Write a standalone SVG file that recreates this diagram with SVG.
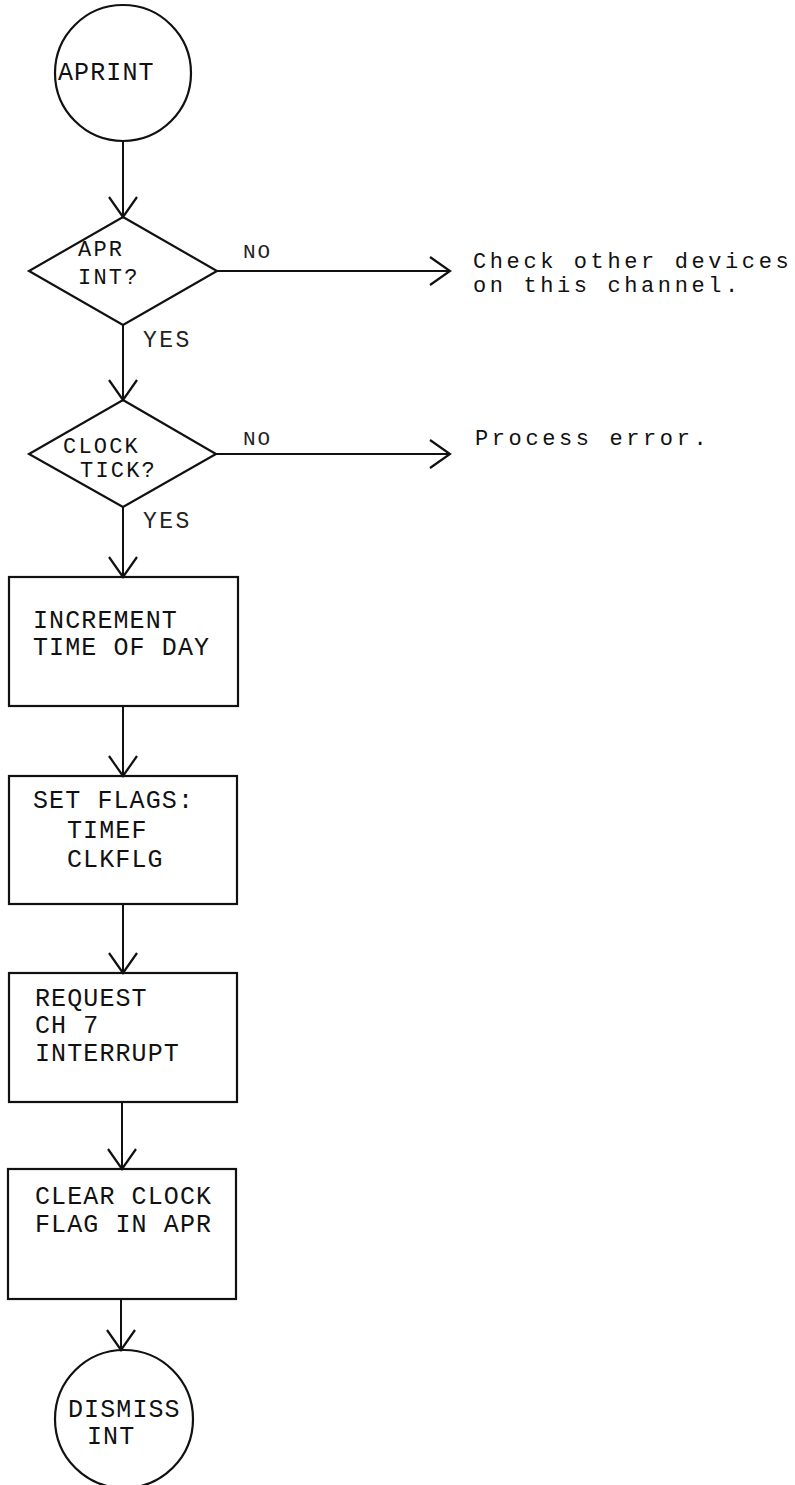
<svg xmlns="http://www.w3.org/2000/svg" width="795" height="1485" viewBox="0 0 795 1485">
<style>
.shape{fill:none;stroke:#111;stroke-width:2.2}
.conn{fill:none;stroke:#111;stroke-width:2}
.t{font-family:"Liberation Mono","DejaVu Sans Mono",monospace;font-size:25px;letter-spacing:1.1px;fill:#111}
.d{font-family:"Liberation Mono","DejaVu Sans Mono",monospace;font-size:22px;letter-spacing:2.2px;fill:#111}
.s{font-family:"Liberation Mono","DejaVu Sans Mono",monospace;font-size:22px;letter-spacing:3.6px;fill:#111}
.lbl{font-family:"Liberation Mono","DejaVu Sans Mono",monospace;font-size:21px;letter-spacing:2px;fill:#222}
.yes{font-family:"Liberation Mono","DejaVu Sans Mono",monospace;font-size:23px;letter-spacing:2.5px;fill:#222}
</style>
<defs>
<marker id="v" markerUnits="userSpaceOnUse" markerWidth="40" markerHeight="40" viewBox="-25 -20 30 40" refX="0" refY="0" orient="auto">
<path d="M-20,-14 L0,0 L-20,14" fill="none" stroke="#111" stroke-width="2.2"/>
</marker>
</defs>
<rect width="795" height="1485" fill="#fff"/>
<g id="connectors">
<line class="conn" x1="123" y1="141" x2="123" y2="217" marker-end="url(#v)"/>
<line class="conn" x1="123" y1="325" x2="123" y2="400" marker-end="url(#v)"/>
<line class="conn" x1="123" y1="507" x2="123" y2="577" marker-end="url(#v)"/>
<line class="conn" x1="123" y1="706" x2="123" y2="776" marker-end="url(#v)"/>
<line class="conn" x1="123" y1="904" x2="123" y2="973" marker-end="url(#v)"/>
<line class="conn" x1="122" y1="1102" x2="122" y2="1169" marker-end="url(#v)"/>
<line class="conn" x1="121" y1="1299" x2="121" y2="1350" marker-end="url(#v)"/>
<line class="conn" x1="217" y1="271" x2="450" y2="271" marker-end="url(#v)"/>
<line class="conn" x1="216" y1="454" x2="450" y2="454" marker-end="url(#v)"/>
<text class="lbl" x="243" y="258">NO</text>
<text class="yes" x="143" y="347">YES</text>
<text class="lbl" x="243" y="445">NO</text>
<text class="yes" x="143" y="528">YES</text>
</g>
<g id="aprint">
<circle class="shape" cx="123" cy="73" r="68"/>
<text class="t" x="58" y="80">APRINT</text>
</g>
<g id="apr-int">
<polygon class="shape" points="123,217 217,271 123,325 29,271"/>
<text class="d" x="78" y="256">APR</text>
<text class="d" x="78" y="284">INT?</text>
</g>
<g id="check-other">
<text class="s" x="473" y="268">Check other devices</text>
<text class="s" x="473" y="292">on this channel.</text>
</g>
<g id="clock-tick">
<polygon class="shape" points="123,400 216,454 123,507 29,454"/>
<text class="d" x="63" y="453">CLOCK</text>
<text class="d" x="80" y="477">TICK?</text>
</g>
<g id="process-error">
<text class="s" x="475" y="445">Process error.</text>
</g>
<g id="increment">
<rect class="shape" x="9" y="577" width="229" height="129"/>
<text class="t" x="33" y="628">INCREMENT</text>
<text class="t" x="33" y="655">TIME OF DAY</text>
</g>
<g id="set-flags">
<rect class="shape" x="9" y="776" width="228" height="128"/>
<text class="t" x="33" y="808">SET FLAGS:</text>
<text class="t" x="67" y="838">TIMEF</text>
<text class="t" x="67" y="867">CLKFLG</text>
</g>
<g id="request">
<rect class="shape" x="9" y="973" width="228" height="129"/>
<text class="t" x="35" y="1006">REQUEST</text>
<text class="t" x="35" y="1033">CH 7</text>
<text class="t" x="35" y="1061">INTERRUPT</text>
</g>
<g id="clear-clock">
<rect class="shape" x="8" y="1169" width="228" height="130"/>
<text class="t" x="35" y="1204">CLEAR CLOCK</text>
<text class="t" x="35" y="1232">FLAG IN APR</text>
</g>
<g id="dismiss">
<circle class="shape" cx="124" cy="1419" r="69"/>
<text class="t" x="68" y="1417">DISMISS</text>
<text class="t" x="87" y="1444">INT</text>
</g>
</svg>
